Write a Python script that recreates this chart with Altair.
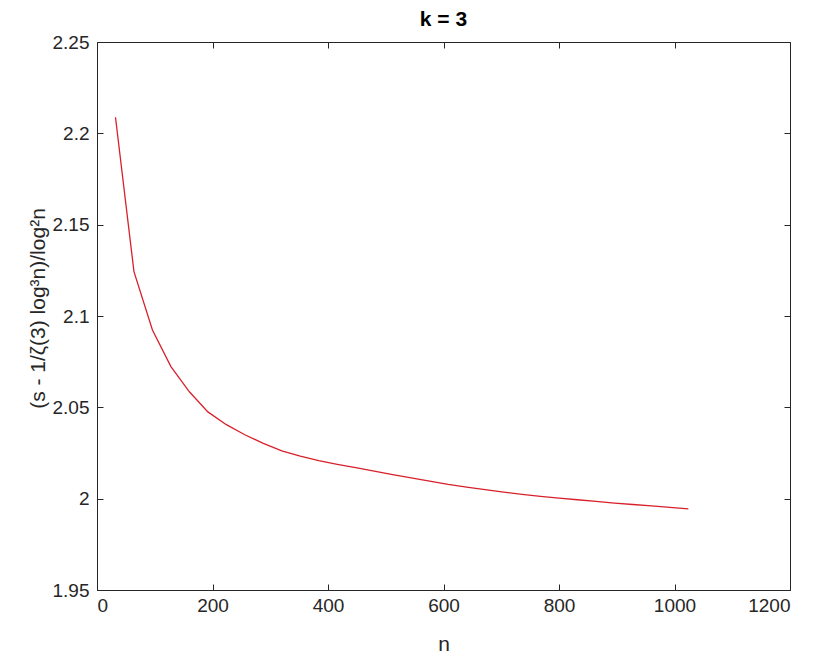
import altair as alt
import pandas as pd

# n values (x) and the measured ratio (y)
n_values = [32, 64, 96, 128, 160, 192, 224, 256, 288, 320, 352, 384, 416, 448,
            480, 512, 544, 576, 608, 640, 672, 704, 736, 768, 800, 832, 864,
            896, 928, 960, 992, 1024]
ratio_values = [2.2088, 2.1243, 2.0923, 2.0723, 2.0585, 2.0475, 2.0405, 2.0350,
                2.0303, 2.0262, 2.0233, 2.0208, 2.0188, 2.0170, 2.0151, 2.0132,
                2.0114, 2.0096, 2.0078, 2.0063, 2.0049, 2.0036, 2.0024, 2.0013,
                2.0003, 1.9994, 1.9985, 1.9976, 1.9968, 1.9960, 1.9952, 1.9944]

x_ticks = [0, 200, 400, 600, 800, 1000, 1200]
y_ticks = [1.95, 2.0, 2.05, 2.1, 2.15, 2.2, 2.25]

title_text = "k = 3"
x_title = "n"
y_title = "(s - 1/ζ(3) log³n)/log²n"

df = pd.DataFrame({"n": n_values, "v": ratio_values})

W, H = 693, 548
AX = "#262626"
FONT = "Liberation Sans"
TICK = 6

xs = alt.Scale(domain=[0, 1200], nice=False, zero=False)
ys = alt.Scale(domain=[1.95, 2.25], nice=False, zero=False)

# grid lines dashed so that only a short inward tick shows at each end
x_grid_dash = [TICK, H - 2 * TICK, TICK, 4000]
y_grid_dash = [TICK, W - 2 * TICK, TICK, 4000]

chart = alt.Chart(df).mark_line(color="#d8202a", strokeWidth=1.3).encode(
    x=alt.X("n:Q", scale=xs, title=x_title,
            axis=alt.Axis(orient="bottom", values=x_ticks, format="d",
                          ticks=False, domain=False,
                          grid=True, gridDash=x_grid_dash, gridColor=AX,
                          gridOpacity=1, gridWidth=1,
                          labelPadding=6,
                          labelFont=FONT, labelFontSize=19, labelColor=AX,
                          titleFont=FONT, titleFontSize=21, titleFontWeight="normal",
                          titleColor=AX, titlePadding=18)),
    y=alt.Y("v:Q", scale=ys, title=y_title,
            axis=alt.Axis(orient="left", values=y_ticks, format="~g",
                          ticks=False, domain=False,
                          grid=True, gridDash=y_grid_dash, gridColor=AX,
                          gridOpacity=1, gridWidth=1,
                          labelPadding=8,
                          labelFont=FONT, labelFontSize=19, labelColor=AX,
                          titleFont=FONT, titleFontSize=21, titleFontWeight="normal",
                          titleColor=AX, titlePadding=4, titleY=266)),
).properties(
    width=W, height=H,
    title=alt.TitleParams(title_text, font=FONT, fontSize=21, fontWeight="bold",
                          color="#000000", offset=3, anchor="middle"),
    padding={"left": 89, "top": 34, "right": 22, "bottom": 65},
    autosize=alt.AutoSizeParams(type="none"),
    background="white",
).configure_view(stroke=AX, strokeWidth=1)

chart.save("out.html", embed_options={"renderer": "svg", "actions": False})
